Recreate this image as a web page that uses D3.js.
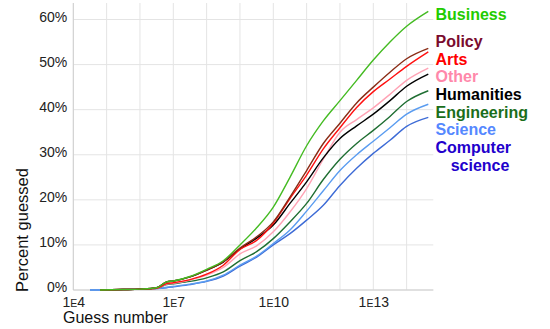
<!DOCTYPE html>
<html>
<head>
<meta charset="utf-8">
<script src="https://cdn.jsdelivr.net/npm/d3@7"></script>
<style>
  html, body { margin: 0; padding: 0; background: #fff; }
  svg { display: block; font-family: "Liberation Sans", Arial, Helvetica, sans-serif; }
</style>
</head>
<body>
<svg id="chart" width="550" height="329"></svg>
<script>
// log10(guess number) sample positions
const guessExp = [4.5, 4.8, 5.5, 6, 6.5, 6.8, 7, 7.5, 8, 8.5, 9, 9.5, 10, 10.5, 11, 11.5, 12, 12.5, 13, 13.5, 14, 14.65];

const business    = [null, 0, 0.1, 0.2, 0.5, 1.8, 2.0, 3.0, 4.6, 6.5, 10.0, 13.8, 18.4, 25.0, 32.0, 37.5, 42.0, 46.5, 51.0, 55.0, 58.5, 61.8];
const policy      = [null, 0, 0.1, 0.2, 0.5, 1.8, 2.0, 2.9, 4.4, 6.3, 9.3, 11.8, 15.1, 20.6, 26.5, 32.5, 37.0, 41.5, 45.0, 48.3, 51.3, 53.6];
const arts        = [null, 0, 0.1, 0.2, 0.4, 1.4, 1.6, 2.3, 3.5, 5.5, 9.0, 11.0, 14.8, 20.3, 25.5, 31.3, 36.0, 40.5, 44.0, 46.8, 49.6, 52.8];
const other       = [null, 0, 0.1, 0.2, 0.4, 1.3, 1.5, 2.2, 3.3, 5.0, 8.0, 9.8, 12.9, 17.3, 22.5, 29.0, 35.0, 37.8, 40.4, 43.4, 46.5, 49.2];
const humanities  = [null, 0, 0.1, 0.2, 0.5, 1.8, 2.0, 2.9, 4.4, 6.2, 9.1, 11.5, 14.4, 19.2, 24.0, 29.3, 33.6, 36.4, 39.0, 42.0, 45.2, 47.9];
const engineering = [null, 0, 0.1, 0.2, 0.4, 1.2, 1.4, 1.9, 2.7, 4.0, 6.5, 8.5, 11.4, 15.1, 19.2, 24.5, 29.0, 32.5, 35.4, 38.5, 41.8, 44.2];
const science     = [0, 0, 0.1, 0.2, 0.3, 0.6, 0.8, 1.3, 2.0, 3.3, 5.5, 7.5, 10.3, 13.3, 17.5, 22.0, 26.5, 30.0, 33.0, 36.0, 39.0, 41.2];
const compSci     = [0, 0, 0.1, 0.2, 0.3, 0.5, 0.7, 1.2, 1.9, 3.1, 5.3, 7.3, 10.0, 12.5, 15.5, 18.8, 23.2, 27.0, 30.3, 33.2, 36.3, 38.3];

const seriesNames  = ["Business", "Policy", "Arts", "Other", "Humanities", "Engineering", "Science", "Computer science"];
const seriesValues = [business, policy, arts, other, humanities, engineering, science, compSci];
const lineColors   = ["#44bb22", "#8a2c16", "#ff1010", "#ffa3b5", "#000000", "#1f6e32", "#5a9cf0", "#3d6bd6"];
const labelColors  = ["#22cc00", "#7a0b2e", "#ff0000", "#ff88aa", "#000000", "#1a6e1a", "#5588ff", "#2200cc"];
const labelLines   = [["Business"], ["Policy"], ["Arts"], ["Other"], ["Humanities"], ["Engineering"], ["Science"], ["Computer", "science"]];

const yTicks = [0, 10, 20, 30, 40, 50, 60];
const xTickExps = [4, 7, 10, 13];
const gridExps = [4, 5, 6, 7, 8, 9, 10, 11, 12, 13, 14];

const svg = d3.select("#chart");
const L = 73.3, R = 433.3, T = 3, B = 290;

const x = d3.scaleLog().domain([1e4, Math.pow(10, 14.8)]).range([L, R]);
const y = d3.scaleLinear().domain([0, 60]).range([B, 19.5]);

// gridlines
svg.append("g").selectAll("line").data(gridExps).join("line")
  .attr("x1", d => x(Math.pow(10, d))).attr("x2", d => x(Math.pow(10, d)))
  .attr("y1", T).attr("y2", B)
  .attr("stroke", "#e4e4e4").attr("stroke-width", 1);
svg.append("g").selectAll("line").data(yTicks).join("line")
  .attr("x1", L).attr("x2", R)
  .attr("y1", d => y(d)).attr("y2", d => y(d))
  .attr("stroke", "#e4e4e4").attr("stroke-width", 1);

// axis lines
svg.append("line").attr("x1", L).attr("x2", L).attr("y1", T).attr("y2", B).attr("stroke", "#cfcfcf");
svg.append("line").attr("x1", L).attr("x2", R).attr("y1", B).attr("y2", B).attr("stroke", "#cfcfcf");

// y axis labels
const yAxis = d3.axisLeft(y).tickValues(yTicks).tickSize(0).tickPadding(6).tickFormat(d => d + "%");
const gy = svg.append("g").attr("transform", `translate(${L},0)`).call(yAxis);
gy.select(".domain").remove();
gy.selectAll("text").attr("font-size", 14).attr("fill", "#222").attr("y", -2.5)
  .attr("font-family", "Liberation Sans, Arial, sans-serif");

// x axis labels (1E4 with small E)
const xAxis = d3.axisBottom(x).tickValues(xTickExps.map(e => Math.pow(10, e))).tickSize(0).tickPadding(0).tickFormat("");
const gx = svg.append("g").attr("transform", `translate(0,${B})`).call(xAxis);
gx.select(".domain").remove();
gx.selectAll(".tick text").each(function(d) {
  const t = d3.select(this);
  const e = Math.round(Math.log10(d));
  t.text(null).attr("font-size", 14).attr("fill", "#222").attr("y", 16.5).attr("dy", 0)
   .attr("font-family", "Liberation Sans, Arial, sans-serif");
  t.append("tspan").text("1");
  t.append("tspan").attr("font-size", 10.5).text("E");
  t.append("tspan").text(String(e));
});

// axis titles
svg.append("text").attr("x", 63).attr("y", 323.3).attr("font-size", 16).attr("fill", "#111").text("Guess number");
svg.append("text").attr("transform", "translate(28,230) rotate(-90)").attr("text-anchor", "middle")
  .attr("font-size", 16.5).attr("fill", "#111").text("Percent guessed");

// lines
const line = d3.line()
  .defined(d => d[1] !== null)
  .curve(d3.curveMonotoneX)
  .x(d => x(Math.pow(10, d[0])))
  .y(d => y(d[1]));

const drawOrder = [7, 6, 5, 3, 4, 2, 1, 0];
drawOrder.forEach(i => {
  const pts = guessExp.map((g, k) => [g, seriesValues[i][k]]);
  svg.append("path").datum(pts)
    .attr("fill", "none").attr("stroke", lineColors[i]).attr("stroke-width", 1.4)
    .attr("stroke-linejoin", "round").attr("d", line);
});

// legend labels
const labelY = [19.5, 47, 64.5, 82, 99.5, 117.5, 135, 153];
seriesNames.forEach((name, i) => {
  const lines = labelLines[i];
  lines.forEach((txt, j) => {
    const t = svg.append("text")
      .attr("font-size", 16).attr("font-weight", "bold").attr("fill", labelColors[i])
      .attr("y", labelY[i] + j * 18).text(txt);
    if (j === 0) t.attr("x", 435.5);
    else t.attr("x", 480).attr("text-anchor", "middle");
  });
});
</script>
</body>
</html>
